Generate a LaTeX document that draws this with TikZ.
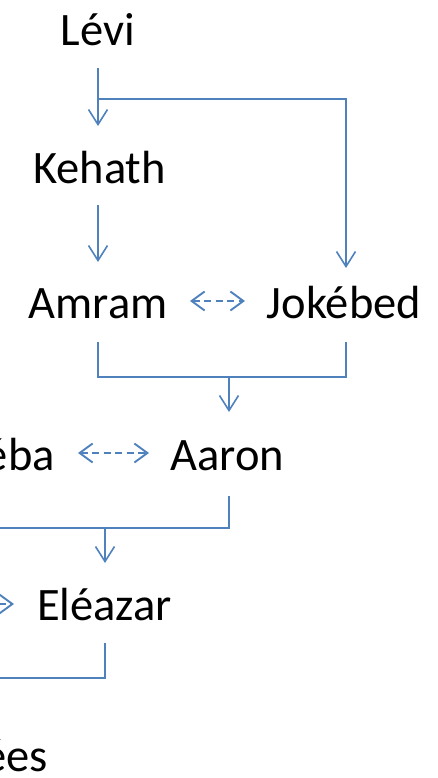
\documentclass[tikz,border=0pt]{standalone}
\usepackage{fontspec}
\setmainfont{Carlito}
\usetikzlibrary{arrows.meta}
\definecolor{conn}{RGB}{79,129,189}
\tikzset{
  person/.style={anchor=base, inner sep=0pt, font=\fontsize{46.5}{50}\selectfont},
  tree/.style={draw=conn, line width=1.7pt},
  down/.style={tree, -{Straight Barb[length=15pt,width=19pt,line width=1.6pt]}},
  spouse/.style={draw=conn, line width=1.9pt, dash pattern=on 7pt off 4.5pt,
    {Straight Barb[length=13pt,width=19pt,line width=1.9pt]}-{Straight Barb[length=13pt,width=19pt,line width=1.9pt]}}
}
\begin{document}
\begin{tikzpicture}[x=1pt,y=-1pt]
\useasboundingbox (0,0) rectangle (437,778);
\clip (0,0) rectangle (437,778);
% names
\node[person] (levi) at (98,46) {Lévi};
\node[person] (kehath) at (99.5,183) {Kehath};
\node[person] (amram) at (98,318) {Amram};
\node[person] (jokebed) at (344,318) {Jokébed};
\node[person] (aaron) at (227.5,470) {Aaron};
\node[person, anchor=base east] (elisheba) at (55,470) {Élishéba};
\node[person] (eleazar) at (104.5,620) {Eléazar};
\node[person, anchor=base east] (phinees) at (48,771) {Phinées};
% junction coordinates
\coordinate (l0) at (98,68);
\coordinate (l1) at (98,99);
\coordinate (kin) at (98,126);
\coordinate (jin) at (346,268);
\coordinate (k0) at (98,205);
\coordinate (ain) at (98,262);
\coordinate (a0) at (98,342);
\coordinate (j0) at (346,342);
\coordinate (m0) at (229,377);
\coordinate (aain) at (229,412);
\coordinate (aa0) at (229,496);
\coordinate (aa1) at (105,528);
\coordinate (aa2) at (-20,528);
\coordinate (ein) at (105,563);
\coordinate (e0) at (105,643);
\coordinate (e1) at (-20,678);
\coordinate (s1a) at (190,301);
\coordinate (s1b) at (245,301);
\coordinate (s2a) at (78,453);
\coordinate (s2b) at (149,453);
\coordinate (s3a) at (-50,604);
\coordinate (s3b) at (14,604);
% connectors
\draw[down] (l0) -- (kin);
\draw[down] (l1) -| (jin);
\draw[down] (k0) -- (ain);
\draw[tree] (a0) |- (m0) -| (j0);
\draw[down] (m0) -- (aain);
\draw[tree] (aa0) |- (aa1) -- (aa2);
\draw[down] (aa1) -- (ein);
\draw[tree] (e0) |- (e1);
\draw[spouse] (s1a) -- (s1b);
\draw[spouse] (s2a) -- (s2b);
\draw[spouse] (s3a) -- (s3b);
\end{tikzpicture}
\end{document}
